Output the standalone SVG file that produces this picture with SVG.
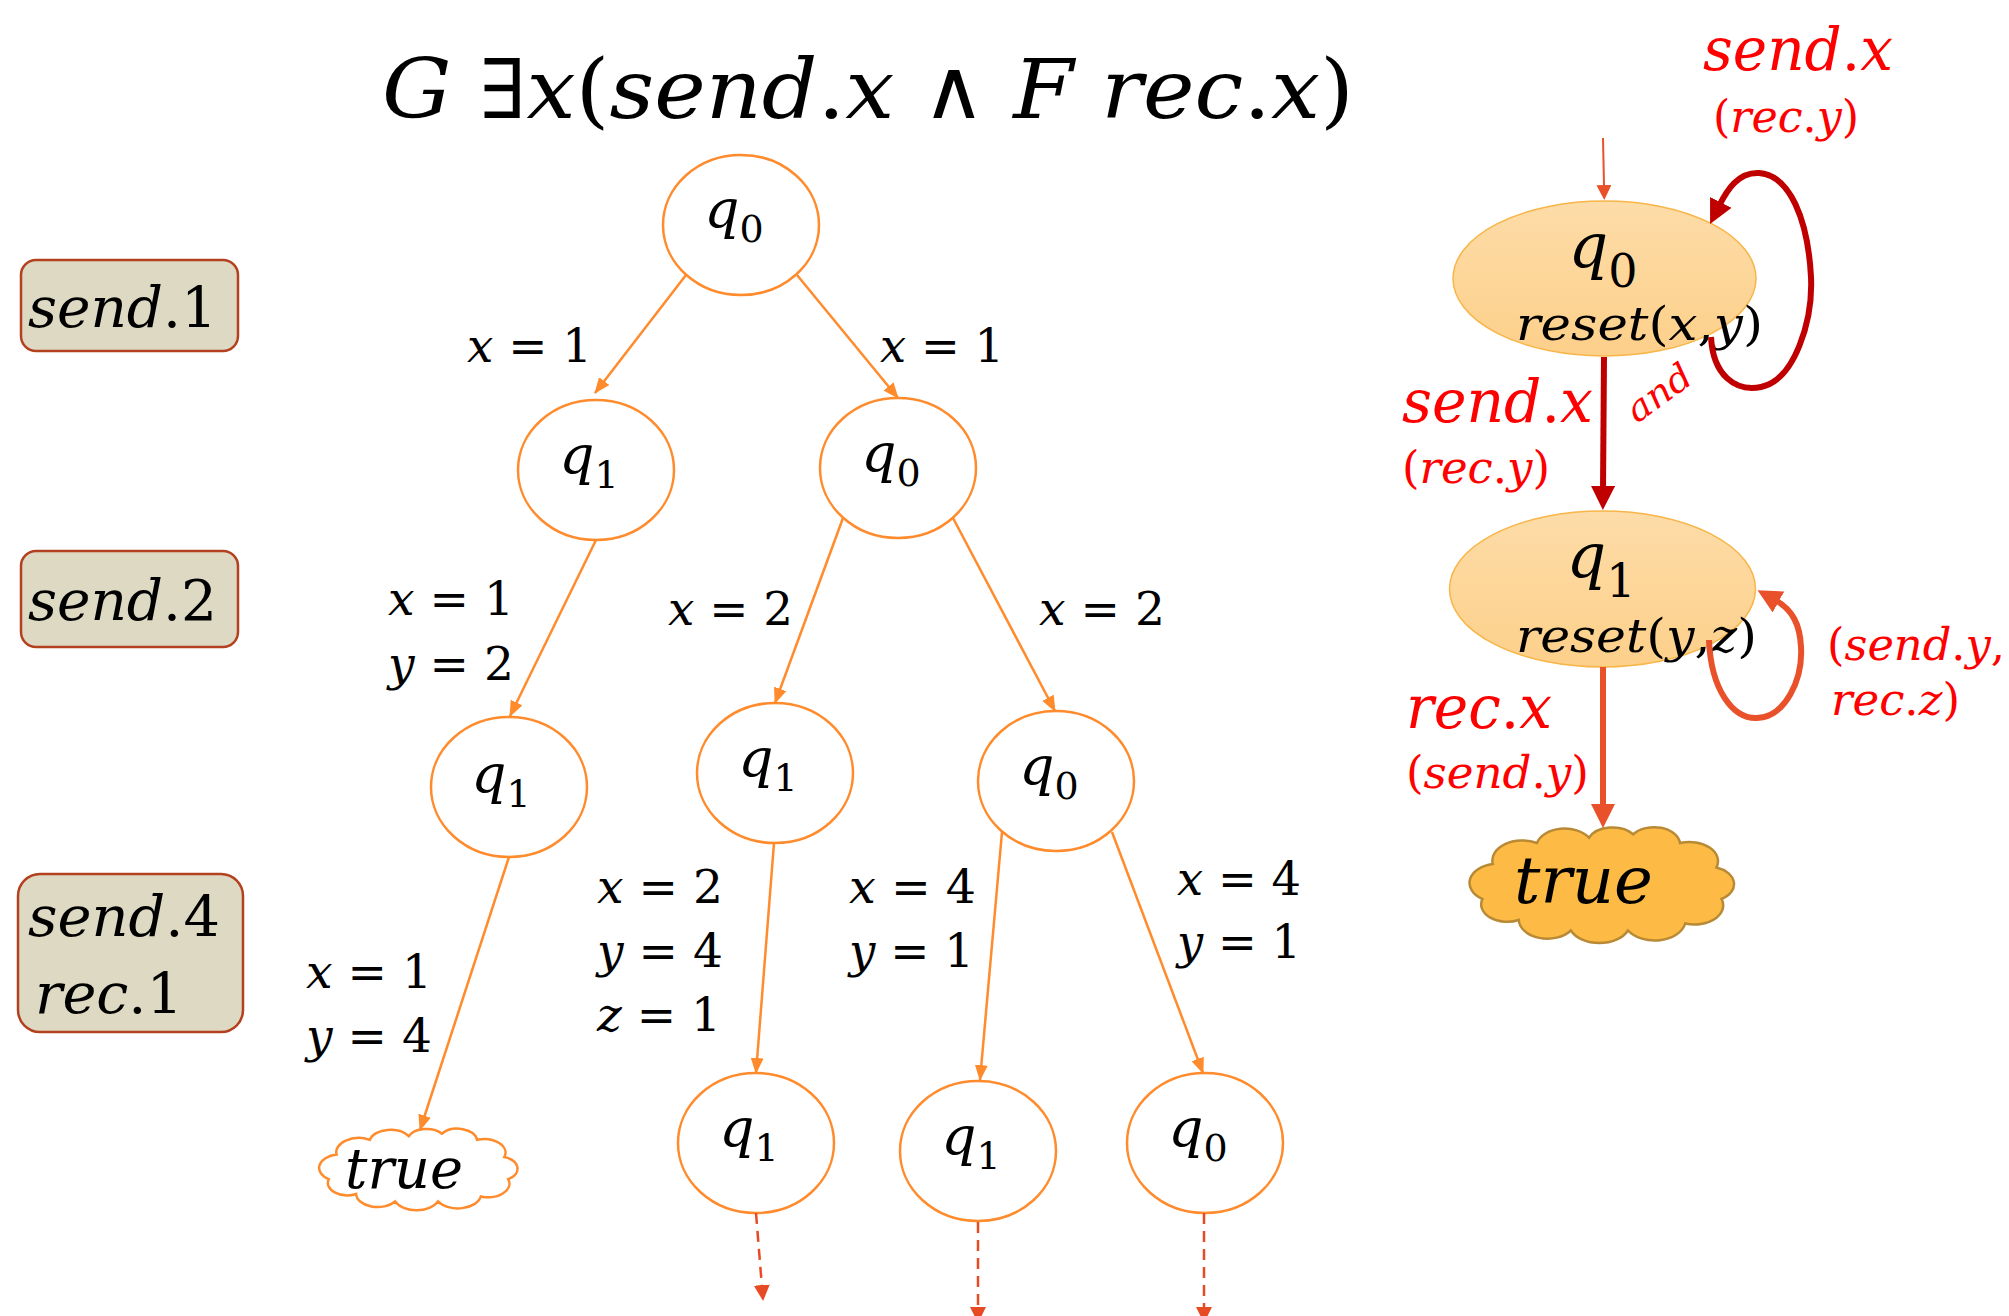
<svg xmlns="http://www.w3.org/2000/svg" width="2009" height="1316" viewBox="0 0 2009 1316">
<defs>
<style>
text{font-family:"DejaVu Serif","Liberation Serif",serif;fill:#000}
.i{font-style:italic}
.n{font-style:normal}
.red{fill:#FF0000}
.node{fill:#fff;stroke:#FF8B2C;stroke-width:2.5}
.edge{fill:none;stroke:#FF8B2C;stroke-width:2.5;marker-end:url(#aO)}
.dash{fill:none;stroke:#E64B23;stroke-width:2.5;stroke-dasharray:11 7;marker-end:url(#aD)}
.box{fill:#DDD9C3;stroke:#B3401E;stroke-width:2.5}
.st{fill:url(#gS);stroke:#F8B548;stroke-width:1.5}
.lbl{font-size:46px}
.q{font-size:55px}
.qs{font-size:38px}
.bt{font-size:56px}
.big{font-size:59px}
.sm{font-size:44px}
.cloudW{fill:#fff;stroke:#FF8B2C;stroke-width:2.5}
.cloudY{fill:#FDBA45;stroke:#B98A35;stroke-width:2.5}
</style>
<linearGradient id="gS" x1="0" y1="0" x2="0" y2="1">
<stop offset="0" stop-color="#FDDCA8"/>
<stop offset="1" stop-color="#FDD08A"/>
</linearGradient>
<marker id="aO" markerUnits="userSpaceOnUse" markerWidth="16" markerHeight="13" refX="15" refY="6.5" orient="auto"><path d="M0,0 L16,6.5 L0,13 z" fill="#FF8B2C"/></marker>
<marker id="aD" markerUnits="userSpaceOnUse" markerWidth="16" markerHeight="16" refX="15" refY="8" orient="auto"><path d="M0,0 L16,8 L0,16 z" fill="#E64B23"/></marker>
<marker id="aI" markerUnits="userSpaceOnUse" markerWidth="15" markerHeight="15" refX="1" refY="7.5" orient="auto"><path d="M0,0 L15,7.5 L0,15 z" fill="#E8512A"/></marker>
<marker id="aK" markerUnits="userSpaceOnUse" markerWidth="24" markerHeight="24" refX="4" refY="12" orient="auto"><path d="M0,0 L24,12 L0,24 z" fill="#C00000"/></marker>
<marker id="aR" markerUnits="userSpaceOnUse" markerWidth="24" markerHeight="24" refX="4" refY="12" orient="auto"><path d="M0,0 L24,12 L0,24 z" fill="#E8512A"/></marker>
<path id="cloud" d="M4,40 A11,11 0 0 1 8,20 A11.5,11.5 0 0 1 25,8 A11,11 0 0 1 45,5 A10,10 0 0 1 62,3 A10,10 0 0 1 80,8 A11,11 0 0 1 94,22 A10,10 0 0 1 96,40 A11,11 0 0 1 82,54 A12,12 0 0 1 60,58 A12,12 0 0 1 38,58 A11,11 0 0 1 18,52 A10,10 0 0 1 4,40 Z" vector-effect="non-scaling-stroke"/>
</defs>
<rect width="2009" height="1316" fill="#fff"/>

<g id="title">
<text x="382" y="118" font-size="82" textLength="972" lengthAdjust="spacingAndGlyphs"><tspan class="i">G</tspan> ∃<tspan class="i">x</tspan>(<tspan class="i">send</tspan>.<tspan class="i">x</tspan> ∧ <tspan class="i">F rec</tspan>.<tspan class="i">x</tspan>)</text>
</g>

<g id="box1"><rect class="box" x="21" y="260" width="217" height="91" rx="15"/><text class="bt" x="28" y="327" textLength="189" lengthAdjust="spacingAndGlyphs"><tspan class="i">send</tspan>.1</text></g>
<g id="box2"><rect class="box" x="21" y="551" width="217" height="96" rx="15"/><text class="bt" x="28" y="620" textLength="189" lengthAdjust="spacingAndGlyphs"><tspan class="i">send</tspan>.2</text></g>
<g id="box3"><rect class="box" x="18" y="874" width="225" height="158" rx="22"/><text class="bt" x="28" y="936" textLength="192" lengthAdjust="spacingAndGlyphs"><tspan class="i">send</tspan>.4</text><text class="bt" x="35" y="1013" textLength="148" lengthAdjust="spacingAndGlyphs"><tspan class="i">rec</tspan>.1</text></g>

<g id="t0"><ellipse class="node" cx="741" cy="225" rx="78" ry="70"/><text class="q" x="734" y="228" text-anchor="middle"><tspan class="i">q</tspan><tspan class="qs" dy="14">0</tspan></text></g>
<g id="t1"><ellipse class="node" cx="596" cy="470" rx="78" ry="70"/><text class="q" x="589" y="474" text-anchor="middle"><tspan class="i">q</tspan><tspan class="qs" dy="14">1</tspan></text></g>
<g id="t2"><ellipse class="node" cx="898" cy="468" rx="78" ry="70"/><text class="q" x="891" y="472" text-anchor="middle"><tspan class="i">q</tspan><tspan class="qs" dy="14">0</tspan></text></g>
<g id="t3"><ellipse class="node" cx="509" cy="787" rx="78" ry="70"/><text class="q" x="501" y="793" text-anchor="middle"><tspan class="i">q</tspan><tspan class="qs" dy="14">1</tspan></text></g>
<g id="t4"><ellipse class="node" cx="775" cy="773" rx="78" ry="70"/><text class="q" x="768" y="777" text-anchor="middle"><tspan class="i">q</tspan><tspan class="qs" dy="14">1</tspan></text></g>
<g id="t5"><ellipse class="node" cx="1056" cy="781" rx="78" ry="70"/><text class="q" x="1049" y="785" text-anchor="middle"><tspan class="i">q</tspan><tspan class="qs" dy="14">0</tspan></text></g>
<g id="t6"><ellipse class="node" cx="756" cy="1143" rx="78" ry="70"/><text class="q" x="749" y="1147" text-anchor="middle"><tspan class="i">q</tspan><tspan class="qs" dy="14">1</tspan></text></g>
<g id="t7"><ellipse class="node" cx="978" cy="1151" rx="78" ry="70"/><text class="q" x="971" y="1155" text-anchor="middle"><tspan class="i">q</tspan><tspan class="qs" dy="14">1</tspan></text></g>
<g id="t8"><ellipse class="node" cx="1205" cy="1143" rx="78" ry="70"/><text class="q" x="1198" y="1147" text-anchor="middle"><tspan class="i">q</tspan><tspan class="qs" dy="14">0</tspan></text></g>
<g id="tTrue"><use href="#cloud" class="cloudW" transform="translate(321,1130) scale(1.95,1.23)"/><text x="345" y="1188" font-size="56" textLength="118" lengthAdjust="spacingAndGlyphs" class="i">true</text></g>

<g id="sq0"><ellipse class="st" cx="1604.5" cy="278.5" rx="151.5" ry="77.5"/><text x="1603" y="267" font-size="62" text-anchor="middle"><tspan class="i">q</tspan><tspan font-size="46" dy="20">0</tspan></text><text x="1516" y="340" font-size="46" textLength="247" lengthAdjust="spacingAndGlyphs"><tspan class="i">reset</tspan>(<tspan class="i">x</tspan>,<tspan class="i">y</tspan>)</text></g>
<g id="sq1"><ellipse class="st" cx="1602.5" cy="589" rx="153" ry="78"/><text x="1601" y="577" font-size="62" text-anchor="middle"><tspan class="i">q</tspan><tspan font-size="46" dy="20">1</tspan></text><text x="1516" y="652" font-size="46" textLength="241" lengthAdjust="spacingAndGlyphs"><tspan class="i">reset</tspan>(<tspan class="i">y</tspan>,<tspan class="i">z</tspan>)</text></g>
<g id="sTrue"><use href="#cloud" class="cloudY" transform="translate(1472,829) scale(2.6,1.75)"/><text x="1514" y="903" font-size="66" textLength="139" lengthAdjust="spacingAndGlyphs" class="i">true</text></g>

<g id="connectors">
<path class="edge" d="M686,275 L595,393"/>
<path class="edge" d="M797,275 L898,398"/>
<path class="edge" d="M596,540 L510,716"/>
<path class="edge" d="M843,518 L775,703"/>
<path class="edge" d="M953,518 L1055,711"/>
<path class="edge" d="M509,857 L420,1130"/>
<path class="edge" d="M774,843 L756,1073"/>
<path class="edge" d="M1002,832 L980,1080"/>
<path class="edge" d="M1112,832 L1203,1073"/>
<path class="dash" d="M756,1213 L763,1300"/>
<path class="dash" d="M978,1222 L978,1322"/>
<path class="dash" d="M1204,1213 L1204,1322"/>
<path d="M1603,138 L1604,186" fill="none" stroke="#E8512A" stroke-width="2" marker-end="url(#aI)"/>
<path d="M1711,337 C1713,375 1735,392 1761,387 C1795,380 1813,320 1811,277 C1808,220 1790,175 1759,173 C1738,172 1727,190 1719,206" fill="none" stroke="#C00000" stroke-width="6" marker-end="url(#aK)"/>
<path d="M1604,357 L1603,490" fill="none" stroke="#C00000" stroke-width="6" marker-end="url(#aK)"/>
<path d="M1709,640 C1711,690 1733,719 1757,718 C1785,717 1803,680 1801,647 C1800,625 1793,610 1775,600" fill="none" stroke="#E8512A" stroke-width="6" marker-end="url(#aR)"/>
<path d="M1603,667 L1603,808" fill="none" stroke="#E8512A" stroke-width="6" marker-end="url(#aR)"/>
</g>

<g id="labels">
<text class="lbl" x="467" y="362" textLength="125" lengthAdjust="spacingAndGlyphs"><tspan class="i">x</tspan> = 1</text>
<text class="lbl" x="880" y="362" textLength="124" lengthAdjust="spacingAndGlyphs"><tspan class="i">x</tspan> = 1</text>
<text class="lbl" x="388" y="615" textLength="126" lengthAdjust="spacingAndGlyphs"><tspan class="i">x</tspan> = 1</text>
<text class="lbl" x="388" y="680" textLength="126" lengthAdjust="spacingAndGlyphs"><tspan class="i">y</tspan> = 2</text>
<text class="lbl" x="668" y="625" textLength="125" lengthAdjust="spacingAndGlyphs"><tspan class="i">x</tspan> = 2</text>
<text class="lbl" x="1039" y="625" textLength="126" lengthAdjust="spacingAndGlyphs"><tspan class="i">x</tspan> = 2</text>
<text class="lbl" x="306" y="988" textLength="126" lengthAdjust="spacingAndGlyphs"><tspan class="i">x</tspan> = 1</text>
<text class="lbl" x="306" y="1052" textLength="126" lengthAdjust="spacingAndGlyphs"><tspan class="i">y</tspan> = 4</text>
<text class="lbl" x="597" y="903" textLength="126" lengthAdjust="spacingAndGlyphs"><tspan class="i">x</tspan> = 2</text>
<text class="lbl" x="597" y="967" textLength="126" lengthAdjust="spacingAndGlyphs"><tspan class="i">y</tspan> = 4</text>
<text class="lbl" x="597" y="1031" textLength="124" lengthAdjust="spacingAndGlyphs"><tspan class="i">z</tspan> = 1</text>
<text class="lbl" x="849" y="903" textLength="127" lengthAdjust="spacingAndGlyphs"><tspan class="i">x</tspan> = 4</text>
<text class="lbl" x="849" y="967" textLength="125" lengthAdjust="spacingAndGlyphs"><tspan class="i">y</tspan> = 1</text>
<text class="lbl" x="1177" y="895" textLength="124" lengthAdjust="spacingAndGlyphs"><tspan class="i">x</tspan> = 4</text>
<text class="lbl" x="1177" y="958" textLength="124" lengthAdjust="spacingAndGlyphs"><tspan class="i">y</tspan> = 1</text>
<text class="big red" x="1703" y="70" textLength="190" lengthAdjust="spacingAndGlyphs"><tspan class="i">send</tspan>.<tspan class="i">x</tspan></text>
<text class="sm red" x="1713" y="132" textLength="146" lengthAdjust="spacingAndGlyphs">(<tspan class="i">rec</tspan>.<tspan class="i">y</tspan>)</text>
<text class="big red" x="1402" y="422" textLength="191" lengthAdjust="spacingAndGlyphs"><tspan class="i">send</tspan>.<tspan class="i">x</tspan></text>
<text class="sm red" x="1402" y="483" textLength="148" lengthAdjust="spacingAndGlyphs">(<tspan class="i">rec</tspan>.<tspan class="i">y</tspan>)</text>
<text class="red i" font-size="36" transform="translate(1637,424) rotate(-36)" textLength="72" lengthAdjust="spacingAndGlyphs">and</text>
<text class="big red" x="1406" y="728" textLength="146" lengthAdjust="spacingAndGlyphs"><tspan class="i">rec</tspan>.<tspan class="i">x</tspan></text>
<text class="sm red" x="1406" y="788" textLength="183" lengthAdjust="spacingAndGlyphs">(<tspan class="i">send</tspan>.<tspan class="i">y</tspan>)</text>
<text class="sm red" x="1827" y="660" textLength="178" lengthAdjust="spacingAndGlyphs">(<tspan class="i">send</tspan>.<tspan class="i">y</tspan>,</text>
<text class="sm red" x="1831" y="715" textLength="129" lengthAdjust="spacingAndGlyphs"><tspan class="i">rec</tspan>.<tspan class="i">z</tspan>)</text>
</g>
</svg>
